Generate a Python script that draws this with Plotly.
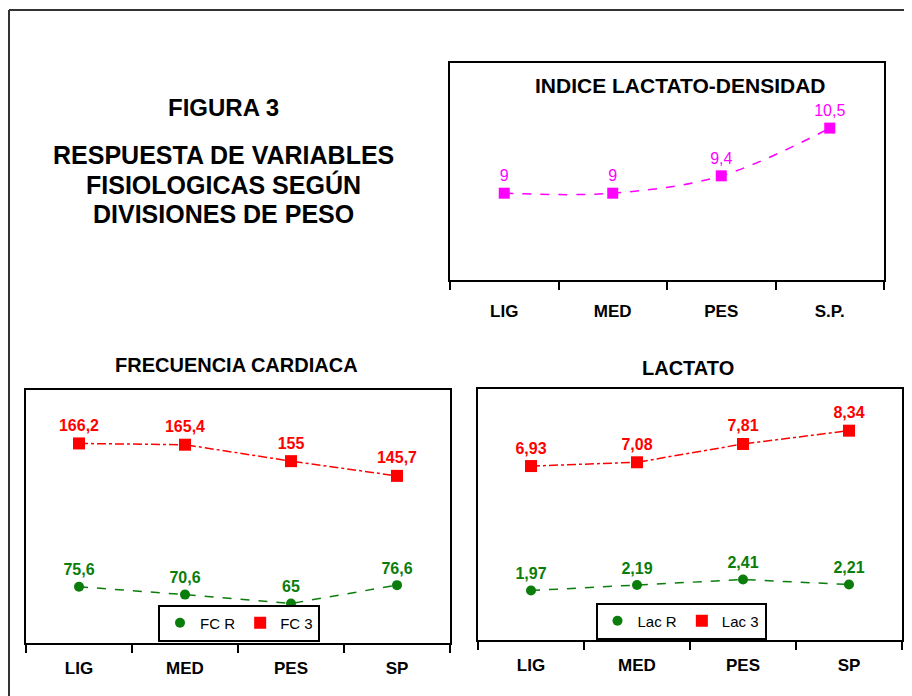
import plotly.graph_objects as go

# ---------------- data ----------------
cats_top = ["LIG", "MED", "PES", "S.P."]
cats_bottom = ["LIG", "MED", "PES", "SP"]

indice_lac_dens = [9, 9, 9.4, 10.5]

fc_r = [75.6, 70.6, 65, 76.6]
fc_3 = [166.2, 165.4, 155, 145.7]

lac_r = [1.97, 2.19, 2.41, 2.21]
lac_3 = [6.93, 7.08, 7.81, 8.34]

title_lines = ["FIGURA 3", "RESPUESTA DE VARIABLES", "FISIOLOGICAS SEGÚN", "DIVISIONES DE PESO"]


def lab(vals):
    return [f"{v:g}".replace(".", ",") for v in vals]


# page body has an 8px margin, so the figure starts at (8, 8) in the window
OFF = 8
W, H = 904, 688
FONT = "Liberation Sans, Arial, sans-serif"
MAG = "#FF00FF"
RED = "#FF0000"
GRN = "#0A7D0A"


def px(x):
    return (x - OFF) / W


def py(y):
    return 1 - (y - OFF) / H


fig = go.Figure()


def add_series(x, y, xa, ya, name, color, dash, symbol, msize, legend=None,
               bold=True, shape="linear"):
    fig.add_trace(go.Scatter(
        x=x, y=y, xaxis=xa, yaxis=ya, mode="lines",
        line=dict(color=color, width=1.5, dash=dash, shape=shape),
        showlegend=False, hoverinfo="skip"))
    fig.add_trace(go.Scatter(
        x=x, y=y, xaxis=xa, yaxis=ya, name=name,
        mode="markers+text", text=lab(y), textposition="top center",
        textfont=dict(color=color, size=16, family=FONT,
                      weight="bold" if bold else "normal"),
        marker=dict(symbol=symbol, size=msize, color=color),
        showlegend=legend is not None, legend=legend or "legend",
        cliponaxis=False))


add_series(cats_top, indice_lac_dens, "x", "y", "INDICE", MAG, "dash", "square", 11,
           None, bold=False, shape="spline")
add_series(cats_bottom, fc_r, "x2", "y2", "FC R", GRN, "dash", "circle", 10, "legend")
add_series(cats_bottom, fc_3, "x2", "y2", "FC 3", RED, "dashdot", "square", 12, "legend")
add_series(cats_bottom, lac_r, "x3", "y3", "Lac R", GRN, "dash", "circle", 10, "legend2")
add_series(cats_bottom, lac_3, "x3", "y3", "Lac 3", RED, "dashdot", "square", 12, "legend2")


def xax(domain, standoff):
    return dict(domain=domain, type="category", range=[-0.5, 3.5],
                tickson="boundaries", ticks="outside", ticklen=8, tickwidth=1.5,
                tickcolor="black", showline=True, linecolor="black", linewidth=1.5,
                mirror=True, showgrid=False, zeroline=False, fixedrange=True,
                ticklabelstandoff=standoff,
                tickfont=dict(family=FONT, size=17, color="black", weight="bold"))


def yax(domain, rng, anchor):
    return dict(domain=domain, range=rng, anchor=anchor, showticklabels=False,
                ticks="", showgrid=False, zeroline=False, showline=True,
                linecolor="black", linewidth=1.5, mirror=True, fixedrange=True)


legend_style = dict(orientation="h", xanchor="center", yanchor="middle",
                    bordercolor="black", borderwidth=2, bgcolor="white",
                    font=dict(family=FONT, size=15, color="black"),
                    itemwidth=30, tracegroupgap=0)

annotations = [
    dict(text="INDICE LACTATO-DENSIDAD", x=px(680), y=py(86), font_size=21),
    dict(text="FRECUENCIA CARDIACA", x=px(237), y=py(365), font_size=20),
    dict(text="LACTATO", x=px(688), y=py(368), font_size=20),
]
anns = []
for a in annotations:
    anns.append(dict(xref="paper", yref="paper", showarrow=False, xanchor="center",
                     yanchor="middle",
                     font=dict(family=FONT, size=a["font_size"], color="black",
                               weight="bold"),
                     text=a["text"], x=a["x"], y=a["y"]))
title_y = [107, 155, 184, 214]
title_fs = [24, 25, 25, 25]
for t, yy, fs in zip(title_lines, title_y, title_fs):
    anns.append(dict(xref="paper", yref="paper", showarrow=False, xanchor="center",
                     yanchor="middle", x=px(223), y=py(yy), text=t,
                     font=dict(family=FONT, size=fs, color="black", weight="bold")))

fig.update_layout(
    width=W, height=H, margin=dict(l=0, r=0, t=0, b=0),
    paper_bgcolor="white", plot_bgcolor="white",
    xaxis=dict(xax([px(450), px(884)], 15), anchor="y"),
    yaxis=yax([py(280), py(63)], [7, 12], "x"),
    xaxis2=dict(xax([px(26), px(450)], 9), anchor="y2"),
    yaxis2=yax([py(643), py(390)], [40, 200], "x2"),
    xaxis3=dict(xax([px(478), px(902)], 9), anchor="y3"),
    yaxis3=yax([py(640), py(389)], [0, 10], "x3"),
    legend=dict(legend_style, x=px(239), y=py(623)),
    legend2=dict(legend_style, x=px(681), y=py(621)),
    annotations=anns,
    shapes=[
        dict(type="line", xref="paper", yref="paper", x0=px(9), x1=1, y0=py(10), y1=py(10),
             line=dict(color="#333333", width=2)),
        dict(type="line", xref="paper", yref="paper", x0=px(9), x1=px(9), y0=py(10), y1=0,
             line=dict(color="#333333", width=2)),
    ],
)

fig.write_html("out.html")
